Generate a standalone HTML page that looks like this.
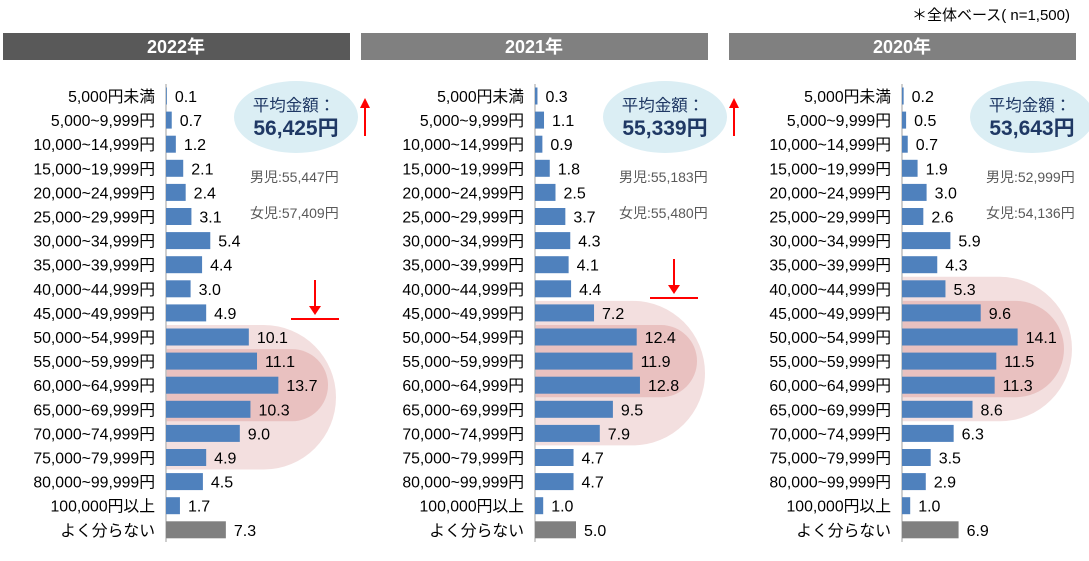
<!DOCTYPE html>
<html><head><meta charset="utf-8">
<style>
body{margin:0;width:1089px;height:556px;background:#fff;overflow:hidden;font-family:"Liberation Sans","Noto Sans CJK JP",sans-serif;}
svg text{font-family:"Liberation Sans","Noto Sans CJK JP",sans-serif;}
</style></head><body>
<svg id="c" width="1089" height="556"></svg>
<script>
const categories=["5,000円未満","5,000~9,999円","10,000~14,999円","15,000~19,999円","20,000~24,999円","25,000~29,999円","30,000~34,999円","35,000~39,999円","40,000~44,999円","45,000~49,999円","50,000~54,999円","55,000~59,999円","60,000~64,999円","65,000~69,999円","70,000~74,999円","75,000~79,999円","80,000~99,999円","100,000円以上","よく分らない"];
const years=["2022年","2021年","2020年"];
const v2022=[0.1,0.7,1.2,2.1,2.4,3.1,5.4,4.4,3.0,4.9,10.1,11.1,13.7,10.3,9.0,4.9,4.5,1.7,7.3];
const v2021=[0.3,1.1,0.9,1.8,2.5,3.7,4.3,4.1,4.4,7.2,12.4,11.9,12.8,9.5,7.9,4.7,4.7,1.0,5.0];
const v2020=[0.2,0.5,0.7,1.9,3.0,2.6,5.9,4.3,5.3,9.6,14.1,11.5,11.3,8.6,6.3,3.5,2.9,1.0,6.9];
const averages=["56,425円","55,339円","53,643円"];
const boys=["男児:55,447円","男児:55,183円","男児:52,999円"];
const girls=["女児:57,409円","女児:55,480円","女児:54,136円"];
const outerBand=[[10,15],[9,14],[8,13]];
const innerBand=[[11,13],[10,12],[9,12]];
const series=[v2022,v2021,v2020];
const NS="http://www.w3.org/2000/svg";
const svg=document.getElementById('c');
function el(t,a,p){const e=document.createElementNS(NS,t);for(const k in a)e.setAttribute(k,a[k]);(p||svg).appendChild(e);return e;}
const panelX=[3,361,729], axisX=[166,535,902], scale=8.2;
const y0=96, pitch=24.1;
function rowY(i){return y0+i*pitch;}
el('text',{x:1070,y:20,'font-size':15,'text-anchor':'end',fill:'#000'}).textContent='＊全体ベース( n=1,500)';
for(let p=0;p<3;p++){
  const g=el('g',{});
  
  
  const hb=el('rect',{x:panelX[p],y:33,width:347,height:27,fill:p==0?'#595959':'#808080'},g);
  
  const ht=el('text',{x:panelX[p]+173,y:53,'font-size':18,'font-weight':'bold',fill:'#fff','text-anchor':'middle'},g);
  ht.textContent=years[p];
  const ax=axisX[p];
  const ob=outerBand[p], ib=innerBand[p];
  const oy1=rowY(ob[0])-12, oy2=rowY(ob[1])+12, or=(oy2-oy1)/2, oRight=ax+170;
  const o=el('path',{d:`M${ax} ${oy1} H${oRight-or} A${or} ${or} 0 0 1 ${oRight-or} ${oy2} H${ax} Z`,fill:'#f2dcdb',opacity:0.9},g);
  
  const iy1=rowY(ib[0])-12, iy2=rowY(ib[1])+12, ir=(iy2-iy1)/2, iRight=ax+162;
  const ii=el('path',{d:`M${ax} ${iy1} H${iRight-ir} A${ir} ${ir} 0 0 1 ${iRight-ir} ${iy2} H${ax} Z`,fill:'#e6b9b8',opacity:0.8},g);
  
  el('line',{x1:ax,y1:84,x2:ax,y2:542,stroke:'#bfbfbf','stroke-width':1.5},g);
  const vals=series[p];
  for(let i=0;i<categories.length;i++){
    const y=rowY(i);
    const lt=el('text',{x:ax-11,y:y+6,'font-size':15.8,'text-anchor':'end',fill:'#000'},g);
    lt.textContent=categories[i];
    const w=vals[i]*scale;
    const b=el('rect',{x:ax,y:y-8.5,width:w,height:17,fill:i==categories.length-1?'#808080':'#4f81bd'},g);
    
    const vt=el('text',{x:ax+w+8,y:y+6,'font-size':16,fill:'#000'},g);
    vt.textContent=vals[i].toFixed(1);
  }
  const cx=ax+130;
  const e=el('ellipse',{cx:cx,cy:117,rx:62,ry:36,fill:'#dbeef4'},g);
  
  const t1=el('text',{x:cx-2,y:111,'font-size':16.5,fill:'#1f3864','text-anchor':'middle'},g);
  t1.textContent='平均金額：';
  const t2=el('text',{x:cx,y:135,'font-size':21,'font-weight':'bold',fill:'#1f3864','text-anchor':'middle'},g);
  t2.textContent=averages[p];
  const bt=el('text',{x:ax+84,y:182,'font-size':14,fill:'#595959'},g);
  bt.textContent=boys[p];
  const gt=el('text',{x:ax+84,y:218,'font-size':14,fill:'#595959'},g);
  gt.textContent=girls[p];
  if(p<2){
    const a=el('g',{},g);
    const axr=ax+199;
    el('line',{x1:axr,y1:136,x2:axr,y2:104,stroke:'#f00','stroke-width':2},a);
    el('path',{d:`M${axr-5} ${108} L${axr} ${98} L${axr+5} ${108} Z`,fill:'#f00'},a);
    const d=el('g',{},g);
    const dx=p==0?ax+149:ax+139, dy=p==0?318:297;
    el('line',{x1:dx,y1:dy-38,x2:dx,y2:dy-10,stroke:'#f00','stroke-width':2},d);
    el('path',{d:`M${dx-6} ${dy-12} L${dx} ${dy-3} L${dx+6} ${dy-12} Z`,fill:'#f00'},d);
    el('line',{x1:dx-24,y1:dy+1,x2:dx+24,y2:dy+1,stroke:'#f00','stroke-width':2},d);
  }
}
</script>
</body></html>
